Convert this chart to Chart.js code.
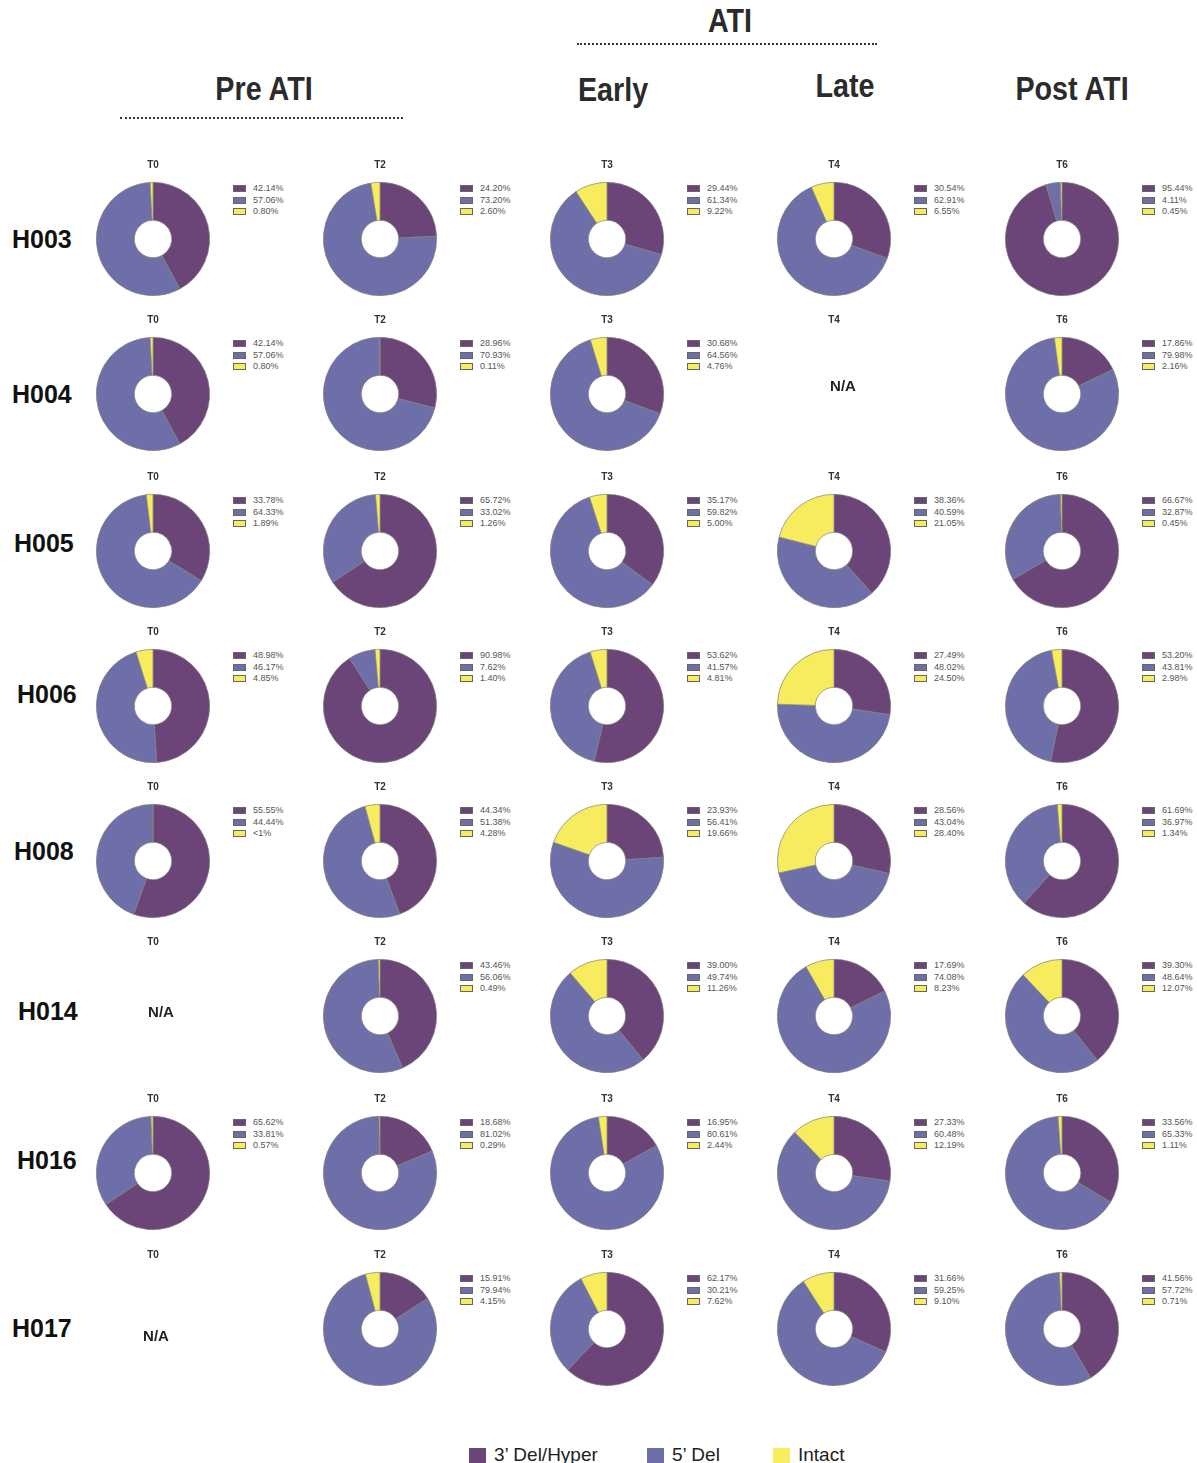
<!DOCTYPE html>
<html>
<head>
<meta charset="utf-8">
<script src="https://cdn.jsdelivr.net/npm/chart.js@4.4.0/dist/chart.umd.min.js"></script>
<style>
  body { margin: 0; background: #fff; font-family: "Liberation Sans", Arial, sans-serif; }
  #page { position: relative; width: 1197px; height: 1463px; overflow: hidden; background: #fff; }
  .head { position: absolute; font-family: "Liberation Sans", sans-serif; font-weight: bold;
          font-size: 33px; color: #2b2b2b; transform: translate(-50%, -50%) scaleX(0.87); white-space: nowrap; }
  .dots { position: absolute; height: 0; border-top: 2px dotted #333; }
  .rowlab { position: absolute; font-weight: bold; font-size: 25px; color: #111; transform: translateY(-50%); }
  .na { position: absolute; font-weight: bold; font-size: 15px; color: #222; transform: translate(-50%, -50%); }
  .leg { position: absolute; font-size: 9px; color: #555; line-height: 11.7px; white-space: nowrap; }
  .leg i { display: inline-block; width: 11px; height: 5px; border: 1px solid #666; margin-right: 7px; vertical-align: -1px; }
  .bottom { position: absolute; top: 1444px; font-size: 19px; color: #222; white-space: nowrap; }
  .bottom i { display: inline-block; width: 17px; height: 15px; margin-right: 8px; vertical-align: -2px; }
</style>
</head>
<body>
<div id="page"></div>
<script>
// categories
const seriesNames = ["3' Del/Hyper", "5' Del", 'Intact'];
const timepoints = ['T0', 'T2', 'T3', 'T4', 'T6'];
const patients = ['H003', 'H004', 'H005', 'H006', 'H008', 'H014', 'H016', 'H017'];

// [3' Del/Hyper, 5' Del, Intact] in % per timepoint, null = N/A
const H003 = [[42.14, 57.06, 0.80], [24.20, 73.20, 2.60], [29.44, 61.34, 9.22], [30.54, 62.91, 6.55], [95.44, 4.11, 0.45]];
const H004 = [[42.14, 57.06, 0.80], [28.96, 70.93, 0.11], [30.68, 64.56, 4.76], null, [17.86, 79.98, 2.16]];
const H005 = [[33.78, 64.33, 1.89], [65.72, 33.02, 1.26], [35.17, 59.82, 5.00], [38.36, 40.59, 21.05], [66.67, 32.87, 0.45]];
const H006 = [[48.98, 46.17, 4.85], [90.98, 7.62, 1.40], [53.62, 41.57, 4.81], [27.49, 48.02, 24.50], [53.20, 43.81, 2.98]];
const H008 = [[55.55, 44.44, 0.01], [44.34, 51.38, 4.28], [23.93, 56.41, 19.66], [28.56, 43.04, 28.40], [61.69, 36.97, 1.34]];
const H014 = [null, [43.46, 56.06, 0.49], [39.00, 49.74, 11.26], [17.69, 74.08, 8.23], [39.30, 48.64, 12.07]];
const H016 = [[65.62, 33.81, 0.57], [18.68, 81.02, 0.29], [16.95, 80.61, 2.44], [27.33, 60.48, 12.19], [33.56, 65.33, 1.11]];
const H017 = [null, [15.91, 79.94, 4.15], [62.17, 30.21, 7.62], [31.66, 59.25, 9.10], [41.56, 57.72, 0.71]];
const patientData = [H003, H004, H005, H006, H008, H014, H016, H017];

// layout
const colors = ['#6b4577', '#6e6fa8', '#f6ec5e'];
const colX = [153, 380, 607, 834, 1062];
const rowY = [239, 394, 551, 706, 861, 1016, 1173, 1329];
const rowLabelPos = [[12, 239], [12, 394], [14, 543], [17, 694], [14, 851], [18, 1011], [17, 1160], [12, 1328]];
const naPos = {'1-3': [843, 385], '5-0': [161, 1011], '7-0': [156, 1335]};

const page = document.getElementById('page');

function addEl(cls, html, style) {
  const el = document.createElement('div');
  el.className = cls;
  el.innerHTML = html;
  Object.assign(el.style, style);
  page.appendChild(el);
  return el;
}

// headers
addEl('head', 'ATI', {left: '730px', top: '21px'});
addEl('dots', '', {left: '577px', top: '43px', width: '300px'});
addEl('head', 'Pre ATI', {left: '264px', top: '89px'});
addEl('dots', '', {left: '120px', top: '117px', width: '283px'});
addEl('head', 'Early', {left: '613px', top: '90px'});
addEl('head', 'Late', {left: '845px', top: '86px'});
addEl('head', 'Post ATI', {left: '1072px', top: '89px'});

function fmt(v) {
  return v < 0.1 ? '<1%' : v.toFixed(2) + '%';
}

patients.forEach((p, r) => {
  addEl('rowlab', p, {left: rowLabelPos[r][0] + 'px', top: rowLabelPos[r][1] + 'px'});
  const cy = rowY[r];
  patientData[r].forEach((vals, c) => {
    const cx = colX[c];
    const canvas = document.createElement('canvas');
    canvas.width = 140;
    canvas.height = 150;
    canvas.style.position = 'absolute';
    canvas.style.left = (cx - 70) + 'px';
    canvas.style.top = (cy - 90) + 'px';
    page.appendChild(canvas);

    new Chart(canvas, {
      type: 'doughnut',
      data: {
        labels: seriesNames,
        datasets: [{
          data: vals || [],
          backgroundColor: colors,
          borderColor: '#808080',
          borderWidth: 0.7
        }]
      },
      options: {
        responsive: false,
        animation: false,
        devicePixelRatio: 1,
        cutout: '33%',
        layout: { padding: { bottom: 3 } },
        plugins: {
          legend: { display: false },
          tooltip: { enabled: false },
          title: {
            display: true,
            text: timepoints[c],
            color: '#333',
            font: { family: 'Liberation Sans', size: 10, weight: 'bold' },
            padding: { top: 10, bottom: 11 }
          }
        }
      }
    });

    if (vals) {
      const rows = vals.map((v, i) => '<div><i style="background:' + colors[i] + '"></i>' + fmt(v) + '</div>').join('');
      addEl('leg', rows, {left: (cx + 80) + 'px', top: (cy - 56) + 'px'});
    } else {
      const pos = naPos[r + '-' + c];
      addEl('na', 'N/A', {left: pos[0] + 'px', top: pos[1] + 'px'});
    }
  });
});

// bottom legend
const bottomX = [469, 647, 773];
seriesNames.forEach((name, i) => {
  addEl('bottom', '<i style="background:' + colors[i] + '"></i>' + name.replace("'", '\u2019'), {left: bottomX[i] + 'px'});
});
</script>
</body>
</html>
